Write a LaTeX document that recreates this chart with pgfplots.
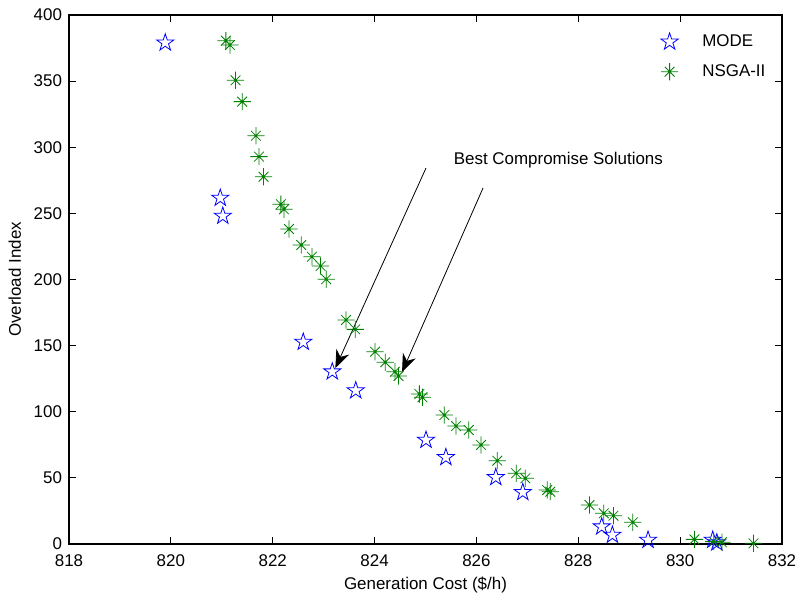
\documentclass[border=0pt]{standalone}
\usepackage{fontspec}
\setmainfont{Liberation Sans}
\usepackage{pgfplots}
\pgfplotsset{compat=1.18}
\usetikzlibrary{arrows.meta}

\definecolor{mblue}{rgb}{0,0,1}
\definecolor{mgreen}{rgb}{0,0.5,0}

% MATLAB-like pentagram and 8-ray asterisk
\pgfdeclareplotmark{pentagram}{%
  \pgfpathmoveto{\pgfpointpolar{90}{\pgfplotmarksize}}%
  \pgfpathlineto{\pgfpointpolar{126}{0.382\pgfplotmarksize}}%
  \pgfpathlineto{\pgfpointpolar{162}{\pgfplotmarksize}}%
  \pgfpathlineto{\pgfpointpolar{198}{0.382\pgfplotmarksize}}%
  \pgfpathlineto{\pgfpointpolar{234}{\pgfplotmarksize}}%
  \pgfpathlineto{\pgfpointpolar{270}{0.382\pgfplotmarksize}}%
  \pgfpathlineto{\pgfpointpolar{306}{\pgfplotmarksize}}%
  \pgfpathlineto{\pgfpointpolar{342}{0.382\pgfplotmarksize}}%
  \pgfpathlineto{\pgfpointpolar{18}{\pgfplotmarksize}}%
  \pgfpathlineto{\pgfpointpolar{54}{0.382\pgfplotmarksize}}%
  \pgfpathclose
  \pgfusepathqstroke}
\pgfdeclareplotmark{ast8}{%
  \pgfpathmoveto{\pgfqpoint{-\pgfplotmarksize}{0pt}}%
  \pgfpathlineto{\pgfqpoint{\pgfplotmarksize}{0pt}}%
  \pgfpathmoveto{\pgfqpoint{0pt}{-\pgfplotmarksize}}%
  \pgfpathlineto{\pgfqpoint{0pt}{\pgfplotmarksize}}%
  \pgfpathmoveto{\pgfpointpolar{45}{0.8\pgfplotmarksize}}%
  \pgfpathlineto{\pgfpointpolar{225}{0.8\pgfplotmarksize}}%
  \pgfpathmoveto{\pgfpointpolar{135}{0.8\pgfplotmarksize}}%
  \pgfpathlineto{\pgfpointpolar{315}{0.8\pgfplotmarksize}}%
  \pgfusepathqstroke}

\begin{document}
\begin{tikzpicture}
\path[use as bounding box] (-34.5bp,-28.5bp) rectangle (366bp,272bp);
\begin{axis}[
    scale only axis,
    width=356.5bp, height=264.5bp,
    xmin=818, xmax=832, ymin=0, ymax=400,
    xtick={818,820,...,832},
    ytick={0,50,...,400},
    tick align=inside,
    major tick length=3.5bp,
    axis line style={line width=0.6bp},
    every tick/.style={black, line width=0.5bp},
    font=\fontsize{8.5}{10}\selectfont,
    /pgf/number format/assume math mode=true,
    /pgf/number format/1000 sep={},
    xticklabel style={yshift=-2bp},
    xlabel={Generation Cost (\$/h)},
    ylabel={Overload Index},
    xlabel style={yshift=2bp},
    ylabel style={yshift=-0.5bp},
    legend style={draw=none, fill=none, at={(0.809,0.979)}, anchor=north west,
      row sep=3.5bp, font=\fontsize{8.5}{10}\selectfont},
    legend cell align=left,
    legend image code/.code={\path (0cm,0cm) (0.8cm,0cm); \draw[#1] plot coordinates {(0.3cm,0cm)};},
    clip=false,
]
\addplot[only marks, mark=pentagram, mark size=4.5bp, color=mblue, line width=0.4bp]
coordinates {
  (819.89,379) (820.97,261.6) (821.02,248) (822.60,152.7) (823.17,130.3)
  (823.63,116) (825.01,78.6) (825.40,65.5) (826.38,50.4) (826.91,39.1)
  (828.46,13.1) (828.67,6.8) (829.37,3) (830.64,3) (830.72,1)
};
\addlegendentry{MODE}
\addplot[only marks, mark=ast8, mark size=4.3bp, color=mgreen, line width=0.4bp]
coordinates {
  (821.08,380.6) (821.16,377.3) (821.27,350.6) (821.40,334.5) (821.67,308.7)
  (821.73,292.9) (821.82,277.7) (822.16,256.9) (822.22,253.1) (822.32,238.2)
  (822.56,226.1) (822.77,217.2) (822.94,210.2) (823.05,200.2) (823.44,169.4)
  (823.62,162.3) (824.01,145.4) (824.21,137.4) (824.40,130.3) (824.47,127)
  (824.88,113.4) (824.94,110.9) (825.37,97.5) (825.60,89.2) (825.85,86.2)
  (826.09,74.9) (826.41,63) (826.78,53.5) (826.96,49.7) (827.39,40.8)
  (827.45,39.5) (828.22,29.5) (828.50,23.2) (828.69,21.4) (829.07,16.4)
  (830.28,3.5) (830.66,1.8) (830.82,1.3) (831.44,0.5)
};
\addlegendentry{NSGA-II}
\draw[line width=0.4bp, -{Stealth[length=9bp,width=7bp]}] (axis cs:825.01,284.3) -- (axis cs:823.23,133);
\draw[line width=0.4bp, -{Stealth[length=9bp,width=7bp]}] (axis cs:826.13,269.2) -- (axis cs:824.54,130);
\node[anchor=west, inner sep=0pt] at (axis cs:825.55,290.4) {Best Compromise Solutions};
\end{axis}
\end{tikzpicture}
\end{document}
